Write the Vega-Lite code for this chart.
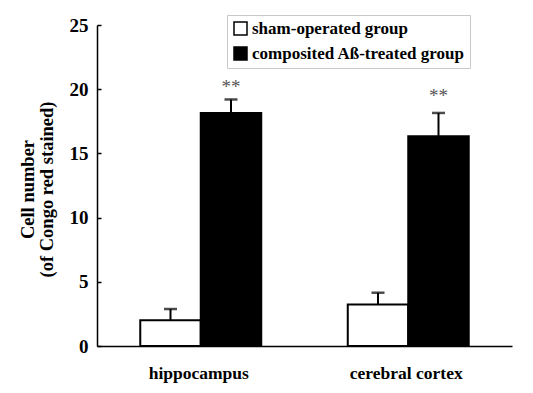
{
  "$schema": "https://vega.github.io/schema/vega-lite/v6.json",
  "width": 415,
  "height": 321,
  "autosize": "none",
  "padding": {"left": 97, "top": 25, "right": 21, "bottom": 47},
  "background": "white",
  "config": {"view": {"stroke": null}, "font": "Liberation Serif"},
  "data": {
    "values": [
      {"region": "hippocampus", "group": "sham-operated group", "mean": 2.0, "upper": 2.88, "sig": "", "sig_y": 0},
      {"region": "hippocampus", "group": "composited Aß-treated group", "mean": 18.15, "upper": 19.2, "sig": "**", "sig_y": 20.45},
      {"region": "cerebral cortex", "group": "sham-operated group", "mean": 3.24, "upper": 4.15, "sig": "", "sig_y": 0},
      {"region": "cerebral cortex", "group": "composited Aß-treated group", "mean": 16.33, "upper": 18.15, "sig": "**", "sig_y": 19.8}
    ]
  },
  "encoding": {
    "x": {
      "field": "region",
      "type": "nominal",
      "sort": ["hippocampus", "cerebral cortex"],
      "scale": {"paddingInner": 0, "paddingOuter": 0},
      "axis": {
        "title": null,
        "ticks": false,
        "labelAngle": 0,
        "labelOffset": -2,
        "domainColor": "black",
        "domainWidth": 1.5,
        "labelFont": "Liberation Serif",
        "labelFontWeight": "bold",
        "labelFontSize": 17.5,
        "labelColor": "black",
        "labelPadding": 18
      }
    },
    "xOffset": {
      "field": "group",
      "type": "nominal",
      "sort": ["sham-operated group", "composited Aß-treated group"],
      "scale": {"paddingInner": 0, "paddingOuter": 0.715}
    }
  },
  "layer": [
    {
      "mark": {"type": "bar", "stroke": "black", "strokeWidth": 2},
      "encoding": {
        "y": {
          "field": "mean",
          "type": "quantitative",
          "scale": {"domain": [0, 25], "nice": false},
          "axis": {
            "values": [0, 5, 10, 15, 20, 25],
            "grid": false,
            "tickSize": -4,
            "tickColor": "black",
            "tickWidth": 1.5,
            "domainColor": "black",
            "domainWidth": 1.5,
            "labelFont": "Liberation Serif",
            "labelFontWeight": "bold",
            "labelFontSize": 19,
            "labelColor": "black",
            "labelPadding": 13,
            "title": ["Cell number", "(of Congo red stained)"],
            "titleFont": "Liberation Serif",
            "titleFontSize": 18.5,
            "titleFontWeight": "bold",
            "titleColor": "black",
            "titleLineHeight": 19,
            "titlePadding": 13,
            "titleY": 164
          }
        },
        "fill": {
          "field": "group",
          "type": "nominal",
          "scale": {"domain": ["sham-operated group", "composited Aß-treated group"], "range": ["white", "black"]},
          "legend": {
            "orient": "none",
            "legendX": 130,
            "legendY": -10,
            "title": null,
            "symbolType": "square",
            "symbolSize": 169,
            "symbolStrokeColor": "black",
            "symbolStrokeWidth": 1.5,
            "labelFont": "Liberation Serif",
            "labelFontSize": 17,
            "labelFontWeight": "bold",
            "labelColor": "black",
            "labelLimit": 0,
            "labelOffset": 3,
            "strokeColor": "#c8c8c8",
            "padding": 5,
            "rowPadding": 6
          }
        }
      }
    },
    {
      "mark": {"type": "rule", "strokeWidth": 2, "color": "black"},
      "encoding": {
        "y": {"field": "mean", "type": "quantitative"},
        "y2": {"field": "upper"}
      }
    },
    {
      "mark": {"type": "tick", "thickness": 2.5, "size": 13, "color": "black"},
      "encoding": {
        "y": {"field": "upper", "type": "quantitative"}
      }
    },
    {
      "transform": [{"filter": "datum.sig != ''"}],
      "mark": {"type": "text", "fontSize": 19, "color": "#555555", "baseline": "middle", "font": "Liberation Serif", "dy": 4},
      "encoding": {
        "y": {"field": "sig_y", "type": "quantitative"},
        "text": {"field": "sig"}
      }
    }
  ]
}
